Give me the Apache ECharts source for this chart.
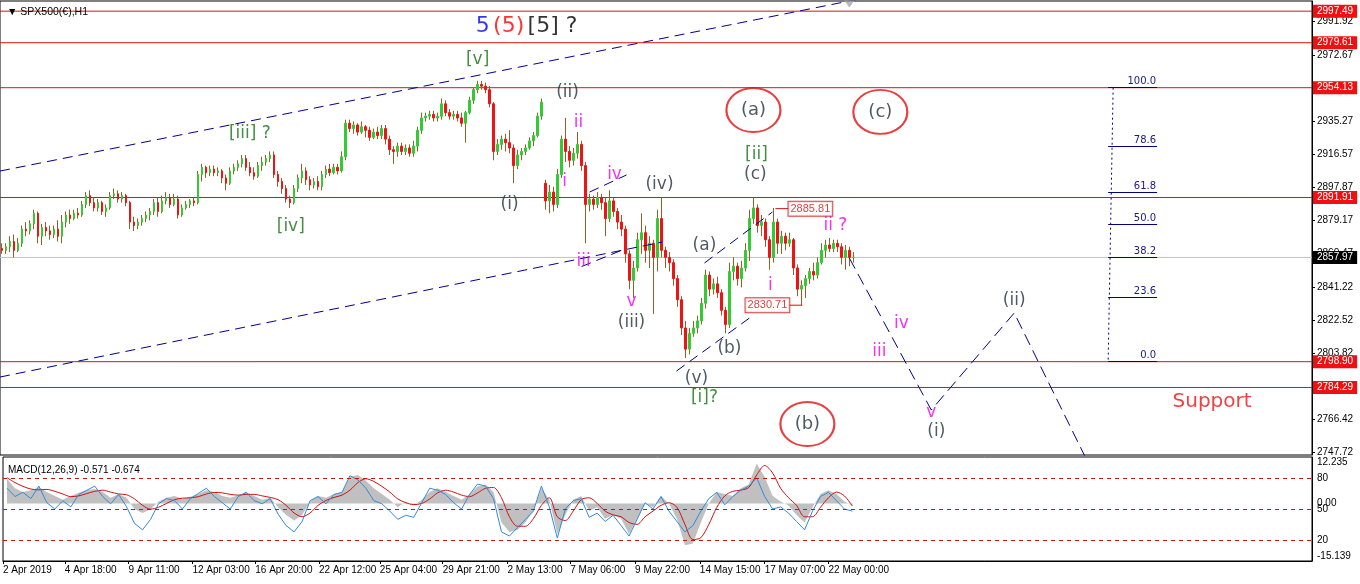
<!DOCTYPE html>
<html>
<head>
<meta charset="utf-8">
<title>SPX500(€),H1</title>
<script src="https://cdn.jsdelivr.net/npm/echarts@6.0.0/dist/echarts.min.js"></script>
<style>
  html, body { margin: 0; padding: 0; background: #fff; }
  #chart { width: 1360px; height: 584px; }
</style>
</head>
<body>
<div id="chart"></div>
<script>
// H1 slot index along the time axis (one slot = one hourly bar)
const slotCount = 1314

// 4-hour candles: [open, close, low, high]
const bars = [
  [2863,2862,2860,2866],[2862,2864,2860,2866],[2864,2867,2861,2870],[2867,2862,2858,2871],
  [2862,2866,2861,2869],[2866,2874,2864,2876],[2874,2873,2870,2878],[2873,2877,2871,2879],
  [2877,2883,2874,2885],[2883,2870,2866,2884],[2870,2875,2865,2877],[2875,2873,2870,2878],
  [2873,2871,2868,2876],[2871,2874,2869,2876],[2874,2870,2867,2879],[2870,2878,2866,2882],
  [2878,2882,2875,2884],[2882,2880,2877,2885],[2880,2883,2879,2885],[2883,2882,2880,2886],
  [2882,2888,2881,2890],[2888,2893,2886,2895],[2893,2889,2887,2896],[2889,2886,2884,2892],
  [2886,2889,2884,2891],[2889,2884,2882,2890],[2884,2886,2881,2888],[2886,2893,2885,2895],
  [2893,2894,2891,2897],[2894,2891,2889,2896],[2891,2893,2889,2895],[2893,2889,2887,2894],
  [2889,2878,2874,2890],[2878,2876,2873,2881],[2876,2878,2874,2880],[2878,2880,2876,2882],
  [2880,2882,2878,2884],[2882,2884,2879,2886],[2884,2889,2882,2891],[2889,2884,2881,2892],
  [2884,2890,2883,2893],[2890,2892,2888,2895],[2892,2888,2886,2894],[2888,2891,2887,2894],
  [2891,2882,2880,2893],[2882,2886,2881,2888],[2886,2888,2885,2890],[2888,2890,2886,2891],
  [2890,2889,2887,2892],[2889,2905,2888,2907],[2905,2909,2901,2911],[2909,2906,2903,2910],
  [2906,2908,2904,2910],[2908,2906,2904,2910],[2906,2907,2904,2909],[2907,2903,2900,2908],
  [2903,2900,2896,2905],[2900,2907,2899,2909],[2907,2909,2905,2911],[2909,2911,2907,2913],
  [2911,2914,2909,2916],[2914,2909,2907,2916],[2909,2906,2904,2912],[2906,2904,2902,2909],
  [2904,2910,2903,2912],[2910,2912,2907,2915],[2912,2914,2910,2916],[2914,2916,2912,2918],
  [2916,2905,2903,2918],[2905,2901,2898,2907],[2901,2897,2894,2903],[2897,2891,2889,2899],
  [2891,2889,2886,2893],[2889,2897,2888,2899],[2897,2903,2895,2905],[2903,2907,2900,2911],
  [2907,2902,2899,2909],[2902,2899,2896,2904],[2899,2901,2897,2903],[2901,2898,2896,2904],
  [2898,2905,2896,2907],[2905,2908,2903,2910],[2908,2906,2904,2911],[2906,2909,2905,2911],
  [2909,2907,2905,2911],[2907,2915,2906,2918],[2915,2934,2913,2936],[2934,2931,2929,2936],
  [2931,2933,2928,2935],[2933,2929,2927,2934],[2929,2932,2928,2935],[2932,2930,2926,2933],
  [2930,2926,2924,2932],[2926,2929,2925,2931],[2929,2927,2925,2932],[2927,2931,2925,2933],
  [2931,2925,2922,2933],[2925,2919,2916,2927],[2919,2918,2911,2921],[2918,2921,2915,2923],
  [2921,2918,2916,2923],[2918,2920,2916,2922],[2920,2917,2915,2922],[2917,2921,2915,2924],
  [2921,2930,2918,2932],[2930,2937,2928,2940],[2937,2938,2935,2940],[2938,2939,2936,2941],
  [2939,2937,2935,2941],[2937,2938,2935,2940],[2938,2945,2936,2948],[2945,2940,2938,2947],
  [2940,2938,2936,2942],[2938,2939,2936,2941],[2939,2937,2935,2941],[2937,2934,2932,2940],
  [2934,2940,2923,2941],[2940,2947,2939,2949],[2947,2953,2945,2954],[2953,2956,2951,2958],
  [2956,2955,2953,2958],[2955,2953,2951,2957],[2953,2945,2943,2955],[2945,2918,2913,2946],
  [2918,2922,2916,2925],[2922,2925,2919,2927],[2925,2923,2918,2928],[2923,2920,2917,2930],
  [2920,2910,2900,2922],[2910,2916,2908,2919],[2916,2918,2913,2920],[2918,2920,2916,2922],
  [2920,2924,2919,2926],[2924,2927,2921,2929],[2927,2938,2926,2940],[2938,2946,2936,2948],
  [2900,2890,2885,2902],[2890,2895,2883,2899],[2895,2888,2884,2898],[2888,2905,2886,2908],
  [2905,2925,2903,2927],[2925,2918,2912,2937],[2918,2913,2909,2921],[2913,2917,2910,2920],
  [2917,2922,2914,2929],[2922,2910,2907,2924],[2910,2888,2866,2912],[2888,2891,2884,2894],
  [2891,2888,2885,2893],[2888,2892,2886,2895],[2892,2889,2885,2894],[2889,2880,2870,2892],
  [2880,2890,2878,2896],[2890,2884,2881,2892],[2884,2878,2874,2886],[2878,2874,2870,2882],
  [2874,2860,2855,2876],[2860,2845,2840,2862],[2845,2852,2835,2856],[2852,2868,2850,2872],
  [2868,2872,2860,2883],[2872,2862,2855,2876],[2862,2866,2852,2870],[2866,2858,2826,2868],
  [2858,2880,2850,2885],[2880,2862,2858,2892],[2862,2858,2852,2864],[2858,2855,2850,2861],
  [2855,2846,2842,2857],[2846,2834,2830,2848],[2834,2818,2814,2836],[2818,2806,2801,2822],
  [2806,2815,2803,2818],[2815,2818,2813,2822],[2818,2822,2815,2825],[2822,2832,2820,2835],
  [2832,2848,2829,2851],[2848,2840,2836,2850],[2840,2843,2837,2846],[2843,2838,2835,2847],
  [2838,2828,2825,2840],[2828,2820,2815,2830],[2820,2850,2818,2855],[2850,2853,2845,2858],
  [2853,2846,2842,2855],[2846,2852,2841,2856],[2852,2862,2850,2866],[2862,2880,2856,2885],
  [2880,2886,2877,2892],[2886,2876,2872,2888],[2876,2878,2870,2882],[2878,2868,2864,2880],
  [2868,2858,2851,2870],[2858,2878,2855,2886],[2878,2866,2860,2880],[2866,2870,2860,2873],
  [2870,2866,2862,2872],[2866,2868,2864,2872],[2868,2852,2848,2869],[2852,2840,2836,2854],
  [2840,2842,2831,2845],[2842,2846,2835,2848],[2846,2850,2843,2852],[2850,2848,2845,2855],
  [2848,2855,2846,2858],[2855,2862,2854,2866],[2862,2865,2858,2868],[2865,2863,2861,2869],
  [2863,2866,2861,2868],[2866,2864,2861,2868],[2864,2858,2854,2866],[2858,2862,2851,2865],
  [2862,2858,2853,2864],[2858,2858,2855,2861]
]

// MACD window, one reading every 8 slots
const macdHist = [
  6.5,4.0,3.0,3.5,4.3,3.0,2.0,1.0,2.0,2.8, 3.5,3.8,3.0,1.5,2.5,1.5,-1.5,-2.5,-1.5,0.5,
  1.5,2.0,1.2,1.8,2.5,3.5,3.0,2.0,1.5,2.2, 3.0,2.0,1.0,1.5,-1.0,-3.0,-4.5,-3.0,0.5,2.0,
  1.5,2.5,3.0,7.0,7.5,6.0,4.0,2.5,1.0,-1.0, 0.5,-0.5,1.0,3.0,4.0,3.0,2.0,1.0,2.5,4.5,
  5.0,3.0,-5.0,-7.5,-7.0,-5.0,-2.0,4.0,1.0,-8.0, -3.0,1.0,2.0,-2.0,-1.0,-4.0,-3.0,-4.0,-8.0,-4.0,
  0,-1.0,2.0,0,-4.0,-11.0,-10.5,-5.0,0,3.0, 2.5,2.0,4.0,5.0,10.5,7.0,2.0,0.5,-0.5,-3.0,
  -5.0,-1.0,2.5,3.5,2.5,0.5,-0.571
]
const macdSignal = [
  6.8,5.5,4.5,3.8,3.6,3.7,3.2,2.5,1.8,2.0, 2.6,3.2,3.5,3.0,2.5,2.3,1.2,-0.5,-1.5,-1.0,
  0,1.0,1.4,1.5,1.8,2.5,2.9,2.8,2.4,2.2, 2.4,2.4,2.0,1.6,1.0,-0.5,-2.5,-3.5,-2.5,-0.5,
  0.8,1.6,2.2,3.5,5.5,6.5,5.8,4.5,3.0,1.2, 0.2,-0.3,0,1.2,2.8,3.5,3.0,2.2,1.8,2.8,
  4.0,4.2,1.5,-3.5,-6.0,-6.0,-4.0,-0.5,1.5,-3.5, -4.5,-2.0,1.0,1.5,0,-2.0,-3.0,-3.5,-5.0,-5.5,
  -3.5,-2.0,-0.5,0.2,-1.0,-5.5,-9.5,-9.0,-5.5,-1.0, 2.0,3.2,3.5,4.2,7.5,10.0,8.0,4.0,1.5,-0.5,
  -3.5,-3.5,-1.0,1.5,3.0,2.0,-0.674
]
// blue oscillator on the 0..100 scale (levels 80/50/20)
const oscLine = [
  70,62,66,60,72,56,50,58,52,64, 68,72,62,55,64,52,36,30,40,55,
  60,58,50,60,65,70,62,56,50,62, 66,58,55,60,45,34,28,38,58,62,
  55,64,66,82,78,70,58,55,48,40, 44,42,56,70,68,64,56,50,64,74,
  72,60,28,24,32,40,48,72,52,22, 50,58,60,42,46,38,44,34,24,40,
  56,50,62,48,38,28,34,48,60,66, 54,62,68,72,80,62,50,52,46,38,
  30,48,62,66,58,50,48
]
const oscLevels = [80, 50, 20]

const priceTicks = [2991.92, 2972.67, 2935.27, 2916.57, 2897.87, 2879.17, 2860.47, 2841.22, 2822.52, 2803.82, 2766.42, 2747.72]
const levelLines = [2997.49, 2979.61, 2954.13, 2891.91, 2798.90, 2784.29]
const lastPrice = 2857.97
const macdTop = 12.235
const macdBottom = -15.139

const dateLabels = ['2 Apr 2019', '4 Apr 18:00', '9 Apr 11:00', '12 Apr 03:00', '16 Apr 20:00', '22 Apr 12:00', '25 Apr 04:00',
  '29 Apr 21:00', '2 May 13:00', '7 May 06:00', '9 May 22:00', '14 May 15:00', '17 May 07:00', '22 May 00:00']
const dateSlots = [0, 62, 126, 190, 253, 317, 378, 441, 506, 569, 634, 699, 764, 828]

const fibHigh = 2954.13
const fibLow = 2798.90
const fibLevels = [100.0, 78.6, 61.8, 50.0, 38.2, 23.6, 0.0]

// wave labels: text, slot, price, style
const waveLabels = [
  ['[v]', 478, 2969.8, 'g'], ['[iii] ?', 250, 2927.9, 'g'], ['[iv]', 291, 2875.2, 'g'],
  ['(i)', 510, 2887.7, 'k'], ['(ii)', 568, 2951.1, 'k'], ['ii', 579, 2934.1, 'm'],
  ['i', 565, 2900.7, 'm'], ['iv', 615, 2904.7, 'm'], ['iii', 584, 2855.4, 'm'],
  ['v', 632, 2832.7, 'm'], ['(iii)', 632, 2820.8, 'k'], ['(iv)', 660, 2899.0, 'k'],
  ['(a)', 705, 2864.4, 'k'], ['(b)', 730, 2806.6, 'k'], ['(v)', 697, 2789.1, 'k'],
  ['[i]?', 705, 2778.3, 'g'], ['[ii]', 757, 2916.0, 'g'], ['(c)', 756, 2904.7, 'k'],
  ['ii ?', 836, 2875.8, 'm'], ['i', 771, 2842.3, 'm'], ['iv', 902, 2820.3, 'm'],
  ['iii', 880, 2804.4, 'm'], ['(ii)', 1015, 2833.8, 'k'], ['(i)', 937, 2759.1, 'k'],
  ['v', 932, 2769.8, 'm'], ['(a)', 754, 2941.5, 'c'], ['(c)', 881, 2940.4, 'c'],
  ['(b)', 808, 2763.6, 'c'], ['Support', 1213, 2776.1, 'r']
]
const circled = [[754, 2941.5], [881, 2940.4], [808, 2763.6]]

const trendLines = [
  [[0, 2906.9], [860, 3004.4]],
  [[0, 2790.2], [663, 2866.7]],
  [[590, 2895.0], [627, 2904.7]],
  [[582, 2852.8], [622, 2862.0]],
  [[705, 2854.8], [773, 2883.7]],
  [[677, 2793.6], [750, 2823.6]]
]
const projection = [[850, 2857.6], [932, 2771.5], [1015, 2826.5], [1090, 2740.4]]

const priceTags = [['2885.81', 811, 2885.6, 776, 790], ['2830.71', 768, 2830.9, 803, 790]]
const shiftMarker = [850, 3001.6]

const FONT = 'Liberation Sans'
const ANN_FONT = 'DejaVu Sans'
const waveColors = { g: '#147014', k: '#24313e', c: '#24313e', m: '#f000f0', r: '#f01010' }
const waveSizes = { g: 17, k: 17, c: 18, m: 17, r: 20 }
const BROWN = '#9c5a24'

const chart = echarts.init(document.getElementById('chart'))

const slots = Array.from({ length: slotCount }, (_, i) => String(i))
const barSlot = (i) => i * 4 + 2
const macdX = (k) => k * 8 + 4
const dateMap = {}
dateSlots.forEach((s, i) => { dateMap[s] = dateLabels[i] })

// full range candles in the wick colour, bodies drawn on top
const wickData = bars.map((b, i) => [barSlot(i), b[0], b[1], b[2], b[3]])
const bodyData = bars.map((b, i) => [barSlot(i), b[0], b[1], Math.min(b[0], b[1]), Math.max(b[0], b[1])])

const fibMarks = fibLevels.map(lv => {
  const p = fibLow + (fibHigh - fibLow) * lv / 100
  return [
    { coord: [1109, p], label: { show: true, position: 'insideEndTop', distance: 1, formatter: lv.toFixed(1), color: '#1a1a80', fontSize: 10, fontFamily: ANN_FONT } },
    { coord: [1158, p] }
  ]
})

// a full-width horizontal level with its price tag sitting on the price axis
const levelSeries = (v, lineColor, tagColor) => ({
  type: 'line', xAxisIndex: 0, yAxisIndex: 0, symbol: 'none', silent: true, z: 2,
  data: [[0, v], [slotCount - 1, v]],
  lineStyle: { color: lineColor, width: 1 },
  endLabel: { show: true, distance: 1, formatter: v.toFixed(2), color: '#fff', backgroundColor: tagColor,
    padding: [2, 4, 1, 4], fontSize: 10, fontFamily: FONT }
})

const series = [
  {
    type: 'candlestick', xAxisIndex: 0, yAxisIndex: 0,
    data: wickData, encode: { x: 0, y: [1, 2, 3, 4] },
    barWidth: 1,
    itemStyle: { color: BROWN, color0: BROWN, borderColor: BROWN, borderColor0: BROWN, borderWidth: 1 },
    z: 3
  },
  {
    type: 'candlestick', xAxisIndex: 0, yAxisIndex: 0,
    data: bodyData, encode: { x: 0, y: [1, 2, 3, 4] },
    barWidth: 2,
    itemStyle: { color: '#35c935', color0: '#ee1414', borderColor: '#35c935', borderColor0: '#ee1414', borderWidth: 1 },
    z: 3
  },
  {
    type: 'line', xAxisIndex: 0, yAxisIndex: 0, symbol: 'none', silent: true, data: [],
    markLine: { silent: true, symbol: ['none', 'none'], animation: false,
      lineStyle: { color: '#000080', width: 1, type: 'solid' }, label: { show: false },
      data: fibMarks.concat([[
        { coord: [1114, fibHigh], lineStyle: { type: [2, 3] } },
        { coord: [1109, fibLow] }
      ]]) }
  },
  {
    type: 'line', xAxisIndex: 1, yAxisIndex: 1, symbol: 'none',
    data: macdHist.map((v, k) => [macdX(k), v]),
    lineStyle: { width: 0 }, areaStyle: { color: '#c0c0c0', opacity: 1 }, itemStyle: { color: '#c0c0c0' }
  },
  {
    type: 'line', xAxisIndex: 1, yAxisIndex: 1, symbol: 'none', smooth: 0.3,
    data: macdSignal.map((v, k) => [macdX(k), v]),
    lineStyle: { width: 1, color: '#d01010' }
  },
  {
    type: 'line', xAxisIndex: 1, yAxisIndex: 2, symbol: 'none',
    data: oscLine.map((v, k) => [macdX(k), v]),
    lineStyle: { width: 1, color: '#2f8ae0' },
    markLine: {
      silent: true, symbol: ['none', 'none'], label: { show: false },
      lineStyle: { color: '#d01010', type: [4, 4], width: 1 },
      data: oscLevels.map(v => ({ yAxis: v }))
    }
  }
]

levelLines.forEach(v => series.push(levelSeries(v, '#e01010', '#ee1111')))
series.push(levelSeries(lastPrice, '#c0c0c0', '#000'))

trendLines.forEach(seg => {
  series.push({ type: 'line', xAxisIndex: 0, yAxisIndex: 0, symbol: 'none', silent: true, data: seg,
    lineStyle: { color: '#00008b', width: 1, type: [10, 6] }, z: 4 })
})
series.push({ type: 'line', xAxisIndex: 0, yAxisIndex: 0, symbol: 'none', silent: true, data: projection,
  lineStyle: { color: '#00008b', width: 1, type: [12, 6] }, z: 4 })

priceTags.forEach(t => {
  series.push({ type: 'line', xAxisIndex: 0, yAxisIndex: 0, symbol: 'none', silent: true,
    data: [[t[3], t[2]], [t[4], t[2]]], lineStyle: { color: '#d01010', width: 1 }, z: 5 })
})
series.push({
  type: 'scatter', xAxisIndex: 0, yAxisIndex: 0, symbolSize: 0, silent: true, z: 6,
  data: priceTags.map(t => ({ value: [t[1], t[2]], name: t[0] })),
  label: { show: true, position: 'inside', formatter: '{b}', color: '#d01010', backgroundColor: '#fff',
    borderColor: '#d01010', borderWidth: 1, padding: [2, 2, 1, 2], fontSize: 11, fontFamily: FONT }
})

series.push({
  type: 'scatter', xAxisIndex: 0, yAxisIndex: 0, symbol: 'circle', symbolSize: [54, 44], silent: true, z: 6,
  data: circled,
  itemStyle: { color: 'rgba(0,0,0,0)', borderColor: '#e01010', borderWidth: 2 }
})

// chart-shift marker on the top edge
series.push({
  type: 'scatter', xAxisIndex: 0, yAxisIndex: 0, symbol: 'triangle', symbolRotate: 180, symbolSize: [10, 7],
  silent: true, z: 6, data: [shiftMarker], itemStyle: { color: '#a8a8a8' }
})

series.push({
  type: 'scatter', xAxisIndex: 0, yAxisIndex: 0, symbolSize: 0, silent: true, z: 7,
  data: waveLabels.map(w => ({
    value: [w[1], w[2]], name: w[0],
    label: { color: waveColors[w[3]], fontSize: waveSizes[w[3]] }
  })),
  label: { show: true, position: 'inside', formatter: '{b}', fontFamily: ANN_FONT, fontSize: 17 }
})

series.push({
  type: 'scatter', xAxisIndex: 0, yAxisIndex: 0, symbolSize: 0, silent: true, z: 7,
  data: [{ value: [527, 2989.1], name: 'top' }],
  label: {
    show: true, position: 'inside', formatter: '{b|5} {r|(5)} {k|[5] ?}',
    rich: {
      b: { color: '#0000ff', fontSize: 22, fontFamily: ANN_FONT },
      r: { color: '#ff0000', fontSize: 22, fontFamily: ANN_FONT },
      k: { color: '#000', fontSize: 22, fontFamily: ANN_FONT }
    }
  }
})

const macdAxis = (labels, vAlign) => ({
  type: 'value', gridIndex: 1, position: 'right', min: macdBottom, max: macdTop,
  axisLine: { show: false }, axisTick: { show: false }, splitLine: { show: false },
  axisLabel: { customValues: labels, formatter: v => (v === 0 ? '0.00' : String(v)), verticalAlign: vAlign,
    color: '#000', fontSize: 10, margin: 5, fontFamily: FONT }
})

const option = {
  animation: false,
  backgroundColor: '#fff',
  title: [
    { text: '▼ SPX500(€),H1', left: 2, top: 2, textStyle: { fontSize: 10.5, fontWeight: 'normal', color: '#000', fontFamily: FONT } },
    { text: 'MACD(12,26,9) -0.571 -0.674', left: 3, top: 460, textStyle: { fontSize: 10, fontWeight: 'normal', color: '#000', fontFamily: FONT } }
  ],
  grid: [
    { left: -1, right: 48, top: 1, height: 454, show: true, borderColor: '#000', borderWidth: 1 },
    { left: -1, right: 48, top: 457, height: 104, show: true, borderColor: '#000', borderWidth: 1 }
  ],
  xAxis: [
    { type: 'category', gridIndex: 0, data: slots, boundaryGap: false,
      axisLine: { show: false }, axisTick: { show: false }, axisLabel: { show: false }, splitLine: { show: false } },
    { type: 'value', gridIndex: 1, min: 0, max: slotCount - 1,
      axisLine: { show: true, onZero: false, lineStyle: { color: '#000' } },
      axisTick: { show: true, length: 3, customValues: dateSlots, lineStyle: { color: '#000' } },
      axisLabel: { show: true, customValues: dateSlots, formatter: (v) => dateMap[v] || '',
        align: 'left', margin: 4, color: '#000', fontSize: 10, fontFamily: FONT },
      splitLine: { show: false } }
  ],
  yAxis: [
    { type: 'value', gridIndex: 0, position: 'right', min: 2746.03, max: 3003.25,
      axisLine: { show: true, lineStyle: { color: '#000' } },
      axisTick: { show: true, length: 3, customValues: priceTicks, lineStyle: { color: '#000' } },
      axisLabel: { customValues: priceTicks, formatter: v => v.toFixed(2), color: '#000', fontSize: 10, margin: 5, fontFamily: FONT },
      splitLine: { show: false } },
    Object.assign(macdAxis([0], 'middle'), { axisLine: { show: true, onZero: false, lineStyle: { color: '#000' } } }),
    { type: 'value', gridIndex: 1, position: 'right', min: 0, max: 100,
      axisLine: { show: false }, axisTick: { show: false },
      axisLabel: { customValues: oscLevels, color: '#000', fontSize: 10, margin: 5, fontFamily: FONT },
      splitLine: { show: false } },
    macdAxis([macdTop], 'top'),
    macdAxis([macdBottom], 'bottom')
  ],
  series: series
}

chart.setOption(option)
</script>
</body>
</html>
